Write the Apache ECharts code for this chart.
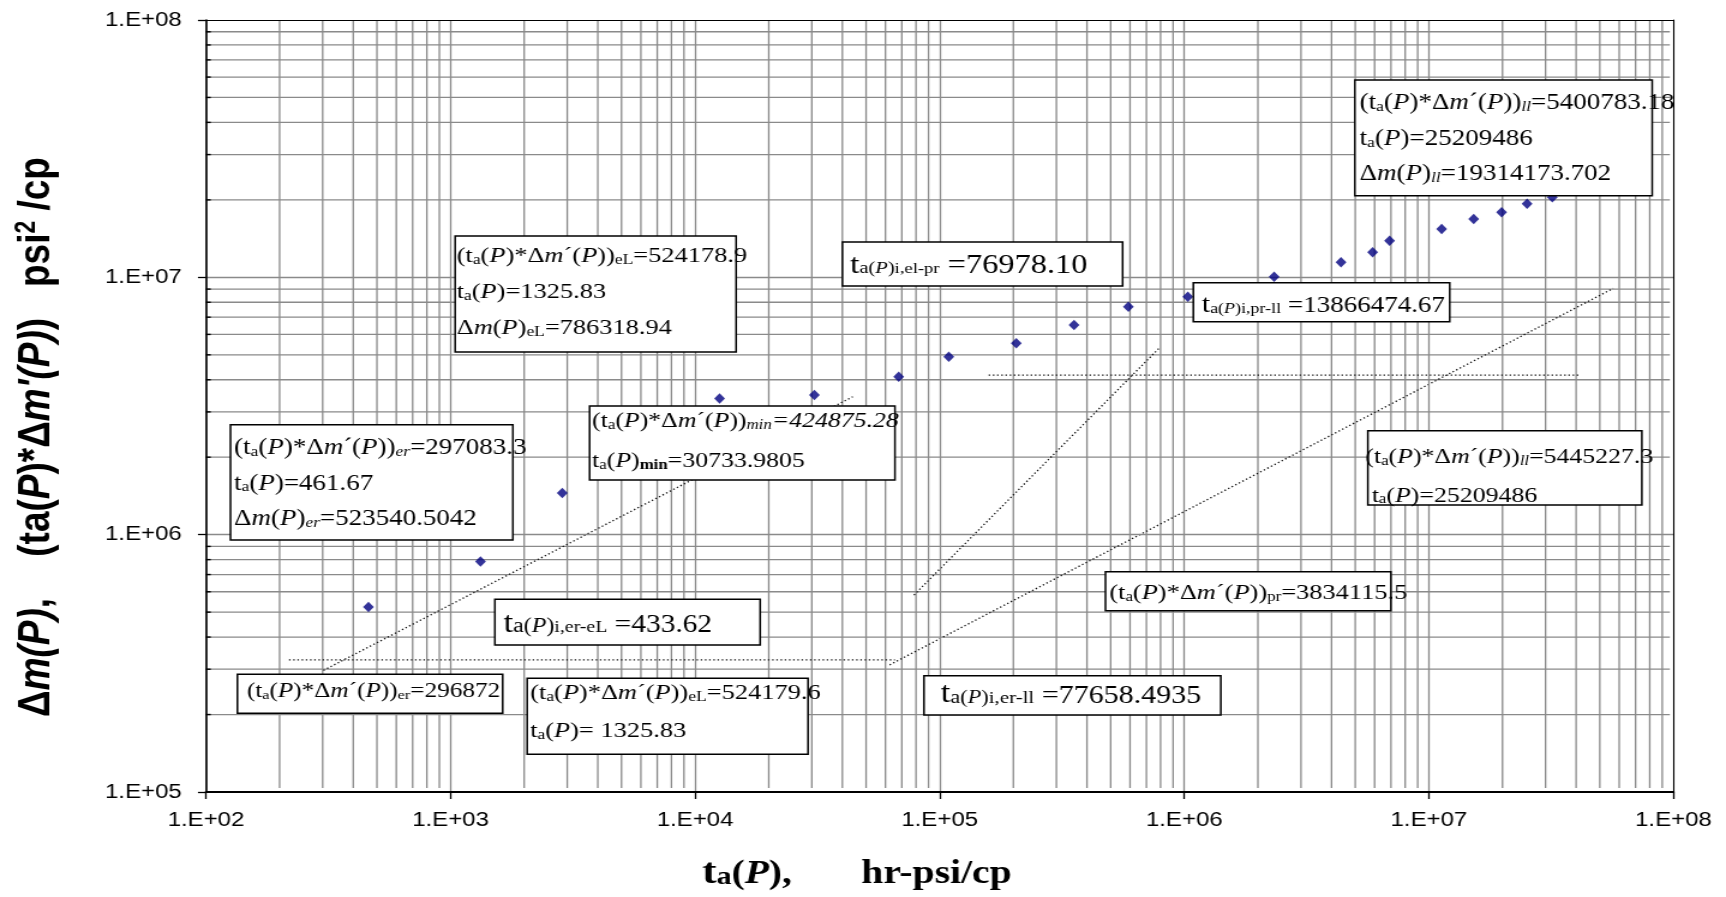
<!DOCTYPE html>
<html>
<head>
<meta charset="utf-8">
<script src="https://cdn.jsdelivr.net/npm/echarts@6/dist/echarts.min.js"></script>
<style>
  html, body { margin: 0; padding: 0; background: #fff; width: 1726px; height: 897px; overflow: hidden; }
  /* the plot is laid out on a narrower canvas and widened to the page */
  #stage { position: absolute; left: 0; top: 0; width: 1438px; height: 897px;
           transform: scaleX(1.20028); transform-origin: 0 0; }
</style>
</head>
<body>
<div id="stage"></div>
<script>
// ---- pressure-time data: Δm(P) against ta(P) ----
const tAP = [461.67, 1325.83, 2862, 12590, 30733.9805, 67970, 108950, 205600, 354200, 590700,
             1034000, 2330000, 4373000, 5891000, 6908000, 11280000, 15250000, 19830000, 25209486, 31970000];
const deltaMP = [523540.5042, 786318.94, 1451000, 3385000, 3487000, 4109000, 4914000, 5540000, 6525000, 7687000,
                 8407000, 10050000, 11440000, 12510000, 13880000, 15410000, 16850000, 17890000, 19314173.702, 20460000];

// ---- straight-line flow regime guides (end points) ----
const erFlatT = [218.5, 65590];        const erFlatV = [326000, 326000];
const erHalfT = [302.1, 44120];        const erHalfV = [296872, 3436000];
const prHalfT = [62400, 56680000];     const prHalfV = [311900, 9056000];
const unitT   = [78500, 788000];       const unitV   = [582600, 5298000];
const prFlatT = [158500, 41570000];    const prFlatV = [4172000, 4172000];

// ---- tick labels ----
const xTickLabels = ['1.E+02', '1.E+03', '1.E+04', '1.E+05', '1.E+06', '1.E+07', '1.E+08'];
const yTickLabels = ['1.E+05', '1.E+06', '1.E+07', '1.E+08'];

// ---- annotation texts as rich-text runs [style, text] ----
const head = [['n', '(t'], ['s', 'a'], ['n', '('], ['i', 'P'], ['n', ')*Δ'], ['i', 'm'], ['n', '´('], ['i', 'P'], ['n', '))']];
const noteElTop = [
  [...head, ['s', 'eL'], ['n', '=524178.9']],
  [['n', 't'], ['s', 'a'], ['n', '('], ['i', 'P'], ['n', ')=1325.83']],
  [['n', 'Δ'], ['i', 'm'], ['n', '('], ['i', 'P'], ['n', ')'], ['s', 'eL'], ['n', '=786318.94']]
];
const noteElPr = [[['t', 't'], ['m', 'a('], ['mi', 'P'], ['m', ')'], ['q', 'i,el-pr'], ['n', ' =76978.10']]];
const notePrLl = [[['t', 't'], ['m', 'a('], ['mi', 'P'], ['m', ')'], ['q', 'i,pr-ll'], ['n', ' =13866474.67']]];
const noteLlTop = [
  [...head, ['si', 'll'], ['n', '=5400783.18']],
  [['n', 't'], ['s', 'a'], ['n', '('], ['i', 'P'], ['n', ')=25209486']],
  [['n', 'Δ'], ['i', 'm'], ['n', '('], ['i', 'P'], ['n', ')'], ['si', 'll'], ['n', '=19314173.702']]
];
const noteErTop = [
  [...head, ['si', 'er'], ['n', '=297083.3']],
  [['n', 't'], ['s', 'a'], ['n', '('], ['i', 'P'], ['n', ')=461.67']],
  [['n', 'Δ'], ['i', 'm'], ['n', '('], ['i', 'P'], ['n', ')'], ['si', 'er'], ['n', '=523540.5042']]
];
const noteMin = [
  [...head, ['si', 'min'], ['i', '=424875.28']],
  [['n', 't'], ['s', 'a'], ['n', '('], ['i', 'P'], ['n', ')'], ['sb', 'min'], ['n', '=30733.9805']]
];
const noteErEl = [[['t', 't'], ['m', 'a('], ['mi', 'P'], ['m', ')'], ['q', 'i,er-eL'], ['n', ' =433.62']]];
const noteErLow = [[...head, ['s', 'er'], ['n', '=296872']]];
const noteElLow = [
  [...head, ['s', 'eL'], ['n', '=524179.6']],
  [['n', 't'], ['s', 'a'], ['n', '('], ['i', 'P'], ['n', ')= 1325.83']]
];
const noteErLl = [[['t', 't'], ['m', 'a('], ['mi', 'P'], ['m', ')'], ['q', 'i,er-ll'], ['n', ' =77658.4935']]];
const notePr = [[...head, ['s', 'pr'], ['n', '=3834115.5']]];
const noteLlLow = [
  [...head, ['si', 'll'], ['n', '=5445227.3']],
  [['n', ' t'], ['s', 'a'], ['n', '('], ['i', 'P'], ['n', ')=25209486']]
];

// ---- box placement (canvas px) and type sizes ----
const boxLayout = [
  { note: noteElTop, x: 379.2, y: 236,   w: 234.1, h: 116,  tx: 380.5,  cy: 256.7, lh: 36,   S: 22,   s: 14.5 },
  { note: noteElPr,  x: 701.9, y: 242,   w: 233.4, h: 44,   tx: 708.3,  cy: 265.5, lh: 44,   big: [28, 17, 15.5, 27] },
  { note: notePrLl,  x: 994.2, y: 282.7, w: 213.6, h: 39,   tx: 1001.2, cy: 306.5, lh: 39,   big: [25, 15, 15, 22.5] },
  { note: noteLlTop, x: 1128.8, y: 80,   w: 247.7, h: 115.7, tx: 1132.8, cy: 103.3, lh: 35.5, S: 22.5, s: 14.5 },
  { note: noteErTop, x: 192,   y: 424.7, w: 235.3, h: 115.3, tx: 195,   cy: 448.3, lh: 35.4, S: 22.5, s: 14.5 },
  { note: noteMin,   x: 491.2, y: 406,   w: 254.4, h: 74,   tx: 493.3,  cy: 421.7, lh: 40,   S: 21.5, s: 14 },
  { note: noteErEl,  x: 412.3, y: 599.3, w: 221,   h: 45.7, tx: 419.4,  cy: 625.5, lh: 45,   big: [29, 20, 16.5, 24.5] },
  { note: noteErLow, x: 197.8, y: 674.3, w: 221,   h: 39,   tx: 205.7,  cy: 691.7, lh: 39,   S: 21,   s: 13.5 },
  { note: noteElLow, x: 439.2, y: 678.3, w: 234,   h: 76,   tx: 441.7,  cy: 693.3, lh: 38.4, S: 22,   s: 14.5 },
  { note: noteErLl,  x: 769.8, y: 675.7, w: 247.3, h: 39.3, tx: 783.8,  cy: 696,   lh: 39,   big: [29, 18.5, 17.5, 25] },
  { note: notePr,    x: 921,   y: 571.7, w: 237.8, h: 39,   tx: 924.2,  cy: 593.5, lh: 39,   S: 22,   s: 14 },
  { note: noteLlLow, x: 1139.6, y: 430.7, w: 228.3, h: 74.3, tx: 1137.5, cy: 457.3, lh: 38.7, S: 21.5, s: 14 }
];

const SERIF = "'Liberation Serif','Times New Roman',serif";
const SANS = "'Liberation Sans',Arial,sans-serif";
const K = 0.31;          // canvas 'middle' to baseline, in em
const gridColor = '#8a8a8a';

// token style whose baseline sits (c - drop) above the bottom of a line of height lh
function tokenStyle(family, z, c, drop, lh, italic, bold) {
  return {
    fontFamily: family, fontSize: z, color: '#000',
    fontStyle: italic ? 'italic' : 'normal', fontWeight: bold ? 'bold' : 'normal',
    verticalAlign: 'bottom', height: 2 * (c - drop + K * z), lineHeight: lh
  };
}
function richMulti(S, s, lh) {
  const c = lh / 2 - K * S, d = 1.5;
  return {
    n: tokenStyle(SERIF, S, c, 0, lh), i: tokenStyle(SERIF, S, c, 0, lh, true),
    s: tokenStyle(SERIF, s, c, d, lh), si: tokenStyle(SERIF, s, c, d, lh, true),
    sb: tokenStyle(SERIF, s, c, d, lh, false, true)
  };
}
function richSingle(sizes, lh) {
  const [T, M, Q, N] = sizes;
  const c = lh / 2 - K * N;
  return {
    t: tokenStyle(SERIF, T, c, 0, lh), m: tokenStyle(SERIF, M, c, 0, lh), mi: tokenStyle(SERIF, M, c, 0, lh, true),
    q: tokenStyle(SERIF, Q, c, 0, lh), n: tokenStyle(SERIF, N, c, 0, lh)
  };
}
const toRich = note => note.map(line => line.map(([st, tx]) => '{' + st + '|' + tx + '}').join('')).join('\n');

const noteGraphics = [];
boxLayout.forEach(b => {
  const rich = b.big ? richSingle(b.big, b.lh) : richMulti(b.S, b.s, b.lh);
  noteGraphics.push({
    type: 'rect', z: 20, silent: true,
    shape: { x: b.x, y: b.y, width: b.w, height: b.h },
    style: { fill: '#fff', stroke: '#000', lineWidth: 1.5 }
  });
  noteGraphics.push({
    type: 'text', z: 21, silent: true, x: b.tx, y: b.cy - b.lh / 2,
    style: { text: toRich(b.note), rich: rich, align: 'left', verticalAlign: 'top',
             textAlign: 'left', textVerticalAlign: 'top' }
  });
});

// ---- minor grid positions: 2..9 within each decade ----
const xMinor = [], yMinor = [];
for (let e = 2; e < 8; e++) for (let m = 2; m <= 9; m++) xMinor.push([m * Math.pow(10, e), 1e5]);
for (let e = 5; e < 8; e++) for (let m = 2; m <= 9; m++) yMinor.push([100, m * Math.pow(10, e)]);

function vMinorItem(params, api) {
  const cs = params.coordSys;
  const x = api.coord([api.value(0), 1e5])[0];
  return { type: 'line', silent: true,
           shape: { x1: x, y1: cs.y, x2: x, y2: cs.y + cs.height - 4 },
           style: { stroke: gridColor, lineWidth: 1.3 } };
}
function hMinorItem(params, api) {
  const cs = params.coordSys;
  const y = api.coord([100, api.value(1)])[1];
  return { type: 'group', silent: true, children: [
    { type: 'line', shape: { x1: cs.x, y1: y, x2: cs.x + cs.width - 3, y2: y }, style: { stroke: gridColor, lineWidth: 1.3 } },
    { type: 'line', shape: { x1: cs.x, y1: y, x2: cs.x + 4, y2: y }, style: { stroke: '#000', lineWidth: 1.4 } }
  ] };
}

// ---- axis titles ----
const xTitle = '{t|t}{a|a}{p|(}{pi|P}{p|),}{p|       hr-psi/cp}';
const xTitleRich = (() => {
  const lh = 40, c = lh / 2 - K * 36;
  return {
    t: tokenStyle(SERIF, 36, c, 0, lh, false, true), a: tokenStyle(SERIF, 25, c, 0, lh, false, true),
    p: tokenStyle(SERIF, 33, c, 0, lh, false, true), pi: tokenStyle(SERIF, 33, c, 0, lh, true, true)
  };
})();
const yTitle = "{b|Δ}{bi|m(P)}{b|,    (ta(}{bi|P}{b|)*Δ}{bi|m'(P)}{b|)   psi}{sup|2}{b| /cp}";
const yTitleRich = (() => {
  const lh = 42, c = lh / 2 - K * 37;
  return {
    b: tokenStyle(SANS, 37, c, 0, lh, false, true), bi: tokenStyle(SANS, 37, c, 0, lh, true, true),
    sup: tokenStyle(SANS, 23, c, -12, lh, false, true)
  };
})();

const dotted = { color: '#111', width: 1.3, type: [1.3, 2.2] };
const guide = (t, v) => ({
  type: 'line', data: t.map((x, i) => [x, v[i]]), symbol: 'none', silent: true,
  lineStyle: dotted, z: 2
});

const chart = echarts.init(document.getElementById('stage'), null, { width: 1438, height: 897 });
chart.setOption({
  animation: false,
  backgroundColor: '#fff',
  grid: { left: 171.6, right: 43.8, top: 20, bottom: 105, containLabel: false, outerBoundsMode: 'none' },
  xAxis: [{
    type: 'log', logBase: 10, min: 100, max: 1e8, interval: 1, splitNumber: 6, z: 3,
    axisLine: { show: true, onZero: false, lineStyle: { color: '#000', width: 2 } },
    axisTick: { show: true, length: 7, lineStyle: { color: '#000', width: 1.3 } },
    axisLabel: { margin: 18, fontFamily: SANS, fontSize: 20, color: '#000', showMinLabel: true, showMaxLabel: true,
                 formatter: v => xTickLabels[Math.round(Math.log10(v)) - 2] },
    splitLine: { show: true, showMinLine: false, showMaxLine: false, lineStyle: { color: gridColor, width: 1.3 } },
    minorTick: { show: false }, minorSplitLine: { show: false },
    name: xTitle, nameLocation: 'middle', nameGap: 62,
    nameTextStyle: { rich: xTitleRich, padding: [0, 138, 0, 0] }
  }, {
    type: 'log', logBase: 10, min: 100, max: 1e8, position: 'top', z: 5,
    axisLine: { show: true, onZero: false, lineStyle: { color: '#000', width: 1.2 } },
    axisTick: { show: false }, axisLabel: { show: false }, splitLine: { show: false }
  }],
  yAxis: [{
    type: 'log', logBase: 10, min: 1e5, max: 1e8, interval: 1, splitNumber: 3, z: 3,
    axisLine: { show: true, onZero: false, lineStyle: { color: '#000', width: 1.7 } },
    axisTick: { show: true, length: 6.7, lineStyle: { color: '#000', width: 1.3 } },
    axisLabel: { margin: 20.2, fontFamily: SANS, fontSize: 20, color: '#000', showMinLabel: true, showMaxLabel: true,
                 formatter: v => yTickLabels[Math.round(Math.log10(v)) - 5] },
    splitLine: { show: true, showMinLine: false, showMaxLine: false, lineStyle: { color: gridColor, width: 1.3 } },
    minorTick: { show: false }, minorSplitLine: { show: false },
    name: yTitle, nameLocation: 'middle', nameRotate: 90, nameGap: 120,
    nameTextStyle: { rich: yTitleRich, padding: [0, 62, 0, 0] }
  }, {
    type: 'log', logBase: 10, min: 1e5, max: 1e8, position: 'right', z: 5,
    axisLine: { show: true, onZero: false, lineStyle: { color: '#000', width: 1.1 } },
    axisTick: { show: false }, axisLabel: { show: false }, splitLine: { show: false }
  }],
  series: [
    { type: 'custom', renderItem: vMinorItem, data: xMinor, z: 1, silent: true, clip: true },
    { type: 'custom', renderItem: hMinorItem, data: yMinor, z: 1, silent: true, clip: true },
    guide(erFlatT, erFlatV),
    guide(erHalfT, erHalfV),
    guide(prHalfT, prHalfV),
    guide(unitT, unitV),
    guide(prFlatT, prFlatV),
    {
      type: 'scatter', data: tAP.map((t, i) => [t, deltaMP[i]]),
      symbol: 'diamond', symbolSize: [9, 10.5], itemStyle: { color: '#000080' }, z: 3
    }
  ],
  graphic: noteGraphics
});
</script>
</body>
</html>
